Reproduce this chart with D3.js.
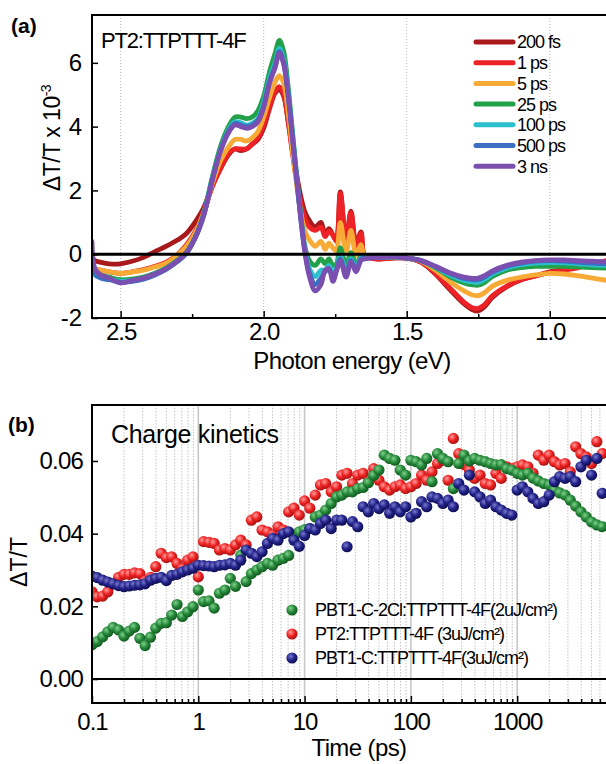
<!DOCTYPE html>
<meta charset="utf-8">
<style>
    body { margin: 0; background: white; }
    svg { display: block; font-family: "Liberation Sans", Arial, sans-serif; }
    .tick text { font-family: "Liberation Sans", Arial, sans-serif; }
</style>
<svg width="606" height="764"></svg>
<script src="https://cdnjs.cloudflare.com/ajax/libs/d3/7.8.5/d3.min.js"></script>
<script>
// ---------- panel (a): transient spectra ----------
var energy = [2.60, 2.59, 2.57, 2.54, 2.50, 2.46, 2.42, 2.38, 2.34, 2.30, 2.27, 2.24, 2.21, 2.18, 2.15, 2.12, 2.10, 2.08, 2.06, 2.04, 2.02, 2.00, 1.98, 1.96, 1.945,
    1.93, 1.915, 1.90, 1.885, 1.87, 1.855,
    1.84, 1.82, 1.80, 1.785, 1.772, 1.758, 1.746, 1.732, 1.712, 1.695, 1.677, 1.66, 1.648,
    1.63, 1.60, 1.55, 1.50, 1.45, 1.40, 1.35, 1.30, 1.27, 1.25, 1.23, 1.20, 1.15, 1.10, 1.05, 1.00, 0.95, 0.90, 0.85, 0.80];

var s200fs = [-0.1, -0.2, -0.25, -0.3, -0.3, -0.22, -0.1, 0.08, 0.25, 0.45, 0.65, 1.0, 1.45, 2.15, 2.7, 3.15, 3.3, 3.25, 3.3, 3.45, 3.6, 3.95, 4.55, 5.05, 5.15,
    4.95, 4.2, 3.3, 2.5, 1.8, 1.3,
    1.05, 0.85, 1.0, 0.6, 0.8, 0.6, 0.45, 1.95, 0.4, 1.35, 0.3, 0.7, -0.05,
    -0.12, -0.15, -0.12, -0.12, -0.25, -0.62, -1.1, -1.55, -1.74, -1.78, -1.66, -1.35, -1.02, -0.8, -0.68, -0.55, -0.48, -0.4, -0.3, -0.22];
var s1ps = [-0.3, -0.45, -0.5, -0.55, -0.6, -0.55, -0.48, -0.38, -0.25, 0.0, 0.3, 0.7, 1.3, 2.1, 2.7, 3.2, 3.3, 3.3, 3.3, 3.45, 3.65, 4.05, 4.6, 5.1, 5.25,
    5.0, 4.2, 3.2, 2.3, 1.6, 1.1,
    0.85, 0.75, 0.85, 0.55, 0.72, 0.6, 0.4, 1.9, 0.4, 1.3, 0.25, 0.65, -0.05,
    -0.1, -0.15, -0.12, -0.12, -0.25, -0.6, -1.05, -1.5, -1.68, -1.7, -1.6, -1.3, -1.0, -0.8, -0.68, -0.57, -0.5, -0.42, -0.3, -0.2];
var s5ps = [-0.25, -0.45, -0.5, -0.55, -0.6, -0.56, -0.5, -0.4, -0.28, -0.02, 0.25, 0.65, 1.3, 2.2, 2.95, 3.4, 3.6, 3.6, 3.55, 3.65, 3.85, 4.3, 4.9, 5.4, 5.6,
    5.35, 4.5, 3.3, 2.2, 1.3, 0.7,
    0.45, 0.25, 0.4, 0.15, 0.35, 0.2, 0.1, 1.0, 0.05, 0.75, -0.05, 0.3, -0.05,
    -0.08, -0.1, -0.1, -0.12, -0.22, -0.5, -0.85, -1.15, -1.28, -1.3, -1.22, -1.0, -0.82, -0.72, -0.65, -0.6, -0.62, -0.68, -0.75, -0.82];
var s25ps = [-0.2, -0.55, -0.65, -0.72, -0.8, -0.78, -0.72, -0.6, -0.43, -0.18, 0.06, 0.52, 1.25, 2.4, 3.4, 4.05, 4.3, 4.3, 4.25, 4.3, 4.5, 4.95, 5.7, 6.3, 6.7,
    6.35, 5.3, 3.9, 2.5, 1.2, 0.2,
    -0.2, -0.35, -0.15, -0.3, -0.15, -0.35, -0.3, 0.2, -0.35, 0.05, -0.35, -0.05, -0.08,
    -0.1, -0.1, -0.08, -0.12, -0.2, -0.42, -0.7, -0.9, -0.96, -0.97, -0.9, -0.7, -0.5, -0.42, -0.38, -0.38, -0.38, -0.4, -0.42, -0.44];
var s100ps = [0.0, -0.65, -0.72, -0.78, -0.85, -0.82, -0.76, -0.63, -0.46, -0.2, 0.04, 0.5, 1.22, 2.35, 3.3, 3.95, 4.15, 4.12, 4.05, 4.1, 4.25, 4.75, 5.5, 6.0, 6.45,
    6.1, 5.1, 3.8, 2.45, 1.15, 0.1,
    -0.45, -0.7, -0.5, -0.5, -0.35, -0.6, -0.45, -0.05, -0.55, -0.15, -0.45, -0.1, -0.1,
    -0.1, -0.1, -0.08, -0.12, -0.2, -0.4, -0.65, -0.82, -0.87, -0.88, -0.8, -0.62, -0.43, -0.33, -0.28, -0.26, -0.27, -0.3, -0.33, -0.35];
var s500ps = [0.1, -0.6, -0.75, -0.8, -0.88, -0.85, -0.78, -0.65, -0.47, -0.22, 0.03, 0.5, 1.22, 2.32, 3.28, 3.9, 4.1, 4.05, 4.0, 4.05, 4.2, 4.65, 5.4, 5.9, 6.35,
    6.0, 5.05, 3.75, 2.4, 1.1, 0.05,
    -0.6, -0.95, -0.75, -0.55, -0.45, -0.75, -0.5, -0.15, -0.65, -0.2, -0.5, -0.15, -0.12,
    -0.1, -0.1, -0.08, -0.12, -0.2, -0.39, -0.6, -0.76, -0.8, -0.8, -0.72, -0.56, -0.38, -0.28, -0.22, -0.2, -0.22, -0.25, -0.28, -0.3];
var s3ns = [0.4, -0.45, -0.65, -0.75, -0.9, -0.82, -0.75, -0.62, -0.45, -0.2, 0.05, 0.5, 1.2, 2.3, 3.25, 3.85, 4.05, 4.0, 3.95, 4.0, 4.15, 4.6, 5.35, 5.85, 6.3,
    5.95, 5.0, 3.7, 2.4, 1.1, 0.0,
    -0.7, -1.15, -0.95, -0.5, -0.45, -0.85, -0.55, -0.2, -0.72, -0.25, -0.55, -0.2, -0.15,
    -0.12, -0.1, -0.08, -0.12, -0.2, -0.38, -0.58, -0.72, -0.76, -0.75, -0.68, -0.52, -0.35, -0.25, -0.2, -0.18, -0.18, -0.2, -0.22, -0.25];

var delayNames = ["200 fs", "1 ps", "5 ps", "25 ps", "100 ps", "500 ps", "3 ns"];
var delayColors = ["#a8191c", "#ec2227", "#f8aa36", "#23a04a", "#2cc0cc", "#3a6fc2", "#7a4fb0"];
var spectra = [s200fs, s1ps, s5ps, s25ps, s100ps, s500ps, s3ns];

// ---------- panel (b): charge kinetics ----------
var times = [0.1, 0.112, 0.126, 0.141, 0.158, 0.178, 0.2, 0.224, 0.251, 0.282, 0.316, 0.355, 0.398, 0.447, 0.501, 0.562, 0.631, 0.708, 0.794, 0.891,
    1, 1.12, 1.26, 1.41, 1.58, 1.78, 2, 2.24, 2.51, 2.82, 3.16, 3.55, 3.98, 4.47, 5.01, 5.62, 6.31, 7.08, 7.94, 8.91,
    10, 11.2, 12.6, 14.1, 15.8, 17.8, 20, 22.4, 25.1, 28.2, 31.6, 35.5, 39.8, 44.7, 50.1, 56.2, 63.1, 70.8, 79.4, 89.1,
    100, 112, 126, 141, 158, 178, 200, 224, 251, 282, 316, 355, 398, 447, 501, 562, 631, 708, 794, 891,
    1000, 1120, 1260, 1410, 1580, 1780, 2000, 2240, 2510, 2820, 3160, 3550, 3980, 4470, 5010, 5620, 6310];

var kinPBT1C2Cl = [.0094, .0103, .0116, .0130, .0142, .0135, .0118, .0132, .0142, .0112, .0092, .0115, .0140, .0153, .0155, .0176, .0205, .0172, .0185, .0199,
    .0245, .0213, .0215, .0195, .0236, .0245, .0277, .0255, .0341, .0268, .0290, .0300, .0309, .0318, .0313, .0327, .0332, .0340, .0396, .0405,
    .0411, .0414, .0446, .0451, .0465, .0483, .0501, .0506, .0515, .0515, .0524, .0527, .0540, .0560, .0575, .0616, .0607, .0602, .0575, .0561,
    .0602, .0598, .0589, .0607, .0543, .0620, .0607, .0598, .0524, .0593, .0616, .0600, .0607, .0602, .0598, .0593, .0589, .0590, .0579, .0575,
    .0566, .0561, .0566, .0553, .0545, .0538, .0534, .0520, .0512, .0506, .0492, .0476, .0460, .0446, .0432, .0424, .0419];
var kinPT2 = [.0240, .0226, .0228, .0240, .0262, .0280, .0288, .0288, .0292, .0290, .0270, .0280, .0309, .0346, .0334, .0336, .0318, .0304, .0327, .0336,
    .0281, .0378, .0376, .0373, .0355, .0359, .0355, .0369, .0382, .0369, .0437, .0446, .0410, .0405, .0396, .0419, .0410, .0460, .0470, .0451,
    .0490, .0470, .0506, .0534, .0538, .0515, .0529, .0561, .0566, .0538, .0561, .0566, .0543, .0579, .0547, .0529, .0520, .0529, .0534, .0524,
    .0529, .0538, .0561, .0547, .0570, .0593, .0602, .0547, .0662, .0620, .0590, .0575, .0552, .0561, .0538, .0534, .0566, .0552, .0584, .0579,
    .0584, .0589, .0584, .0566, .0616, .0602, .0616, .0598, .0589, .0593, .0570, .0639, .0620, .0611, .0593, .0653, .0620];
var kinPBT1C = [.0283, .0279, .0272, .0267, .0262, .0257, .0254, .0256, .0258, .0259, .0262, .0272, .0277, .0280, .0271, .0285, .0288, .0295, .0300, .0305,
    .0313, .0312, .0311, .0309, .0313, .0314, .0318, .0313, .0327, .0355, .0346, .0337, .0350, .0373, .0387, .0382, .0400, .0405, .0382, .0365,
    .0395, .0414, .0410, .0428, .0437, .0414, .0437, .0437, .0364, .0433, .0419, .0474, .0460, .0483, .0469, .0479, .0456, .0474, .0460, .0474,
    .0446, .0456, .0488, .0474, .0501, .0497, .0483, .0492, .0474, .0538, .0520, .0561, .0515, .0501, .0483, .0492, .0474, .0465, .0456, .0451,
    .0520, .0529, .0515, .0497, .0483, .0488, .0506, .0543, .0557, .0552, .0557, .0543, .0584, .0602, .0561, .0607, .0511];

var kinNames = ["PBT1-C-2Cl:TTPTTT-4F(2uJ/cm\u00b2)", "PT2:TTPTTT-4F (3uJ/cm\u00b2)", "PBT1-C:TTPTTT-4F(3uJ/cm\u00b2)"];
var kinIds = ["grn", "red", "blu"];
var kinColors = [["#7fd08a", "#25883a", "#125a1e"], ["#ff9a9a", "#ee2222", "#a81212"], ["#7878cc", "#22228a", "#0e0e50"]];
var kinSeries = [kinPBT1C2Cl, kinPT2, kinPBT1C];

var svg = d3.select("svg");

var defs = svg.append("defs");
kinIds.forEach(function(id, i) {
    var g = defs.append("radialGradient").attr("id", "ball-" + id)
        .attr("cx", "38%").attr("cy", "35%").attr("r", "65%");
    g.append("stop").attr("offset", "0%").attr("stop-color", kinColors[i][0]);
    g.append("stop").attr("offset", "55%").attr("stop-color", kinColors[i][1]);
    g.append("stop").attr("offset", "100%").attr("stop-color", kinColors[i][2]);
});

// ================= panel (a) =================
var aL = 92, aT = 15, aR = 607, aB = 318;
var xA = d3.scaleLinear().domain([2.6, 0.8]).range([aL, aR]);
var yA = d3.scaleLinear().domain([-2, 7.5]).range([aB, aT]);

defs.append("clipPath").attr("id", "clipA").append("rect")
    .attr("x", aL).attr("y", aT).attr("width", aR - aL).attr("height", aB - aT);

var ga = svg.append("g");

ga.selectAll(".grid")
    .data([2.5, 2.0, 1.5, 1.0])
    .enter().append("line")
    .attr("x1", function(d) { return xA(d); })
    .attr("x2", function(d) { return xA(d); })
    .attr("y1", aT).attr("y2", aB)
    .style("stroke", "#b8b8b8")
    .style("stroke-width", 1)
    .style("stroke-dasharray", "1,2");

var lineA = d3.line()
    .x(function(d, i) { return xA(energy[i]); })
    .y(function(d) { return yA(d); })
    .curve(d3.curveCatmullRom.alpha(0.5));

ga.append("g").attr("clip-path", "url(#clipA)")
    .selectAll("path")
    .data(spectra)
    .enter().append("path")
    .attr("d", lineA)
    .style("fill", "none")
    .style("stroke", function(d, i) { return delayColors[i]; })
    .style("stroke-width", 4.8)
    .style("stroke-linejoin", "round")
    .style("stroke-linecap", "round");

ga.append("line")
    .attr("x1", aL).attr("x2", aR)
    .attr("y1", yA(0)).attr("y2", yA(0))
    .style("stroke", "black").style("stroke-width", 3);

ga.append("rect")
    .attr("x", aL).attr("y", aT).attr("width", aR - aL).attr("height", aB - aT)
    .style("fill", "none").style("stroke", "black").style("stroke-width", 2);

var axA = ga.append("g").attr("transform", "translate(0," + aB + ")")
    .call(d3.axisBottom(xA).tickValues([2.5, 2.0, 1.5, 1.0]).tickFormat(d3.format(".1f"))
        .tickSizeInner(-7).tickSizeOuter(0).tickPadding(5));
axA.selectAll(".tick text").style("font-size", "24px").style("letter-spacing", "-1px");
axA.select(".domain").remove();

ga.append("g").attr("transform", "translate(0," + aB + ")")
    .call(d3.axisBottom(xA).tickValues([2.25, 1.75, 1.25]).tickFormat("")
        .tickSizeInner(-4).tickSizeOuter(0))
    .select(".domain").remove();

var ayA = ga.append("g").attr("transform", "translate(" + aL + ",0)")
    .call(d3.axisLeft(yA).tickValues([-2, 0, 2, 4, 6]).tickFormat(function(d) { return String(d); })
        .tickSizeInner(-6).tickSizeOuter(0).tickPadding(10));
ayA.selectAll(".tick text").style("font-size", "24px");
ayA.select(".domain").remove();

svg.selectAll(".tick line").style("stroke-width", 1.5);

ga.append("text")
    .attr("x", 352).attr("y", 369)
    .attr("text-anchor", "middle")
    .style("font-size", "24px").style("letter-spacing", "-0.6px")
    .text("Photon energy (eV)");

var yLabA = ga.append("text")
    .attr("transform", "translate(60,138) rotate(-90)")
    .attr("text-anchor", "middle")
    .style("font-size", "23px").style("letter-spacing", "-0.5px");
yLabA.append("tspan").text("\u0394T/T x 10");
yLabA.append("tspan").attr("dy", -9).style("font-size", "14px").text("-3");

ga.append("text")
    .attr("x", 101).attr("y", 48)
    .style("font-size", "22px").style("letter-spacing", "-1.2px")
    .text("PT2:TTPTTT-4F");

ga.append("text")
    .attr("x", 11).attr("y", 33)
    .style("font-size", "21px").style("font-weight", "bold")
    .text("(a)");

var legA = ga.selectAll(".legA")
    .data(delayNames)
    .enter().append("g")
    .attr("transform", function(d, i) { return "translate(476," + (42 + i * 20.7) + ")"; });
legA.append("line")
    .attr("x1", 0).attr("x2", 37)
    .style("stroke", function(d, i) { return delayColors[i]; })
    .style("stroke-width", 5)
    .style("stroke-linecap", "round");
legA.append("text")
    .attr("x", 41).attr("dy", "0.36em")
    .style("font-size", "18px").style("letter-spacing", "-1px")
    .text(function(d) { return d; });

// ================= panel (b) =================
var bL = 92, bT = 405, bR = 607, bB = 703;
var xB = d3.scaleLog().domain([0.1, 7000]).range([bL, bR]);
var yB = d3.scaleLinear().domain([-0.0066, 0.0754]).range([bB, bT]);

defs.append("clipPath").attr("id", "clipB").append("rect")
    .attr("x", bL).attr("y", bT).attr("width", bR - bL).attr("height", bB - bT);

var gb = svg.append("g");

var majors = [1, 10, 100, 1000];
var minors = [];
[0.1, 1, 10, 100, 1000].forEach(function(dec) {
    for (var m = 2; m <= 9; m++) {
        if (dec * m < 7000) minors.push(dec * m);
    }
});

gb.selectAll(".minorGrid")
    .data(minors)
    .enter().append("line")
    .attr("x1", function(d) { return xB(d); })
    .attr("x2", function(d) { return xB(d); })
    .attr("y1", bT).attr("y2", bB)
    .style("stroke", "#c4c4c4")
    .style("stroke-width", 1)
    .style("stroke-dasharray", "1.5,1.5");

gb.selectAll(".majorGrid")
    .data(majors)
    .enter().append("line")
    .attr("x1", function(d) { return xB(d); })
    .attr("x2", function(d) { return xB(d); })
    .attr("y1", bT).attr("y2", bB)
    .style("stroke", "#c8c8c8")
    .style("stroke-width", 1.6);

gb.append("line")
    .attr("x1", bL).attr("x2", bR)
    .attr("y1", yB(0)).attr("y2", yB(0))
    .style("stroke", "black").style("stroke-width", 2);

var dots = gb.append("g").attr("clip-path", "url(#clipB)");
[1, 0, 2].forEach(function(s) {
    dots.append("g")
        .selectAll("circle")
        .data(kinSeries[s])
        .enter().append("circle")
        .attr("cx", function(d, i) { return xB(times[i]); })
        .attr("cy", function(d) { return yB(d); })
        .attr("r", 5.6)
        .style("fill", "url(#ball-" + kinIds[s] + ")");
});

gb.append("rect")
    .attr("x", bL).attr("y", bT).attr("width", bR - bL).attr("height", bB - bT)
    .style("fill", "none").style("stroke", "black").style("stroke-width", 2);

var axB = gb.append("g").attr("transform", "translate(0," + bB + ")")
    .call(d3.axisBottom(xB).tickValues([0.1, 1, 10, 100, 1000]).tickFormat(function(d) { return String(d); })
        .tickSizeInner(-7).tickSizeOuter(0).tickPadding(10));
axB.selectAll(".tick text").style("font-size", "24px").style("letter-spacing", "-1px");
axB.select(".domain").remove();

gb.append("g").attr("transform", "translate(0," + bB + ")")
    .call(d3.axisBottom(xB).tickValues(minors).tickFormat("")
        .tickSizeInner(-4).tickSizeOuter(0))
    .select(".domain").remove();

var ayB = gb.append("g").attr("transform", "translate(" + bL + ",0)")
    .call(d3.axisLeft(yB).tickValues([0, 0.02, 0.04, 0.06]).tickFormat(d3.format(".2f"))
        .tickSizeInner(-6).tickSizeOuter(0).tickPadding(9));
ayB.selectAll(".tick text").style("font-size", "24px").style("letter-spacing", "-0.8px");
ayB.select(".domain").remove();

gb.selectAll(".tick line").style("stroke-width", 1.5);

gb.append("text")
    .attr("x", 359).attr("y", 756)
    .attr("text-anchor", "middle")
    .style("font-size", "24px").style("letter-spacing", "-0.6px")
    .text("Time (ps)");

gb.append("text")
    .attr("transform", "translate(27,562) rotate(-90)")
    .attr("text-anchor", "middle")
    .style("font-size", "23px")
    .text("\u0394T/T");

gb.append("text")
    .attr("x", 111).attr("y", 443)
    .style("font-size", "25px").style("letter-spacing", "-0.3px")
    .text("Charge kinetics");

gb.append("text")
    .attr("x", 8).attr("y", 432)
    .style("font-size", "21px").style("font-weight", "bold")
    .text("(b)");

var legB = gb.selectAll(".legB")
    .data(kinNames)
    .enter().append("g")
    .attr("transform", function(d, i) { return "translate(292," + (610 + i * 24) + ")"; });
legB.append("circle")
    .attr("r", 5.6)
    .style("fill", function(d, i) { return "url(#ball-" + kinIds[i] + ")"; });
legB.append("text")
    .attr("x", 23).attr("dy", "0.36em")
    .style("font-size", "18px").style("letter-spacing", "-1px")
    .text(function(d) { return d; });
</script>
